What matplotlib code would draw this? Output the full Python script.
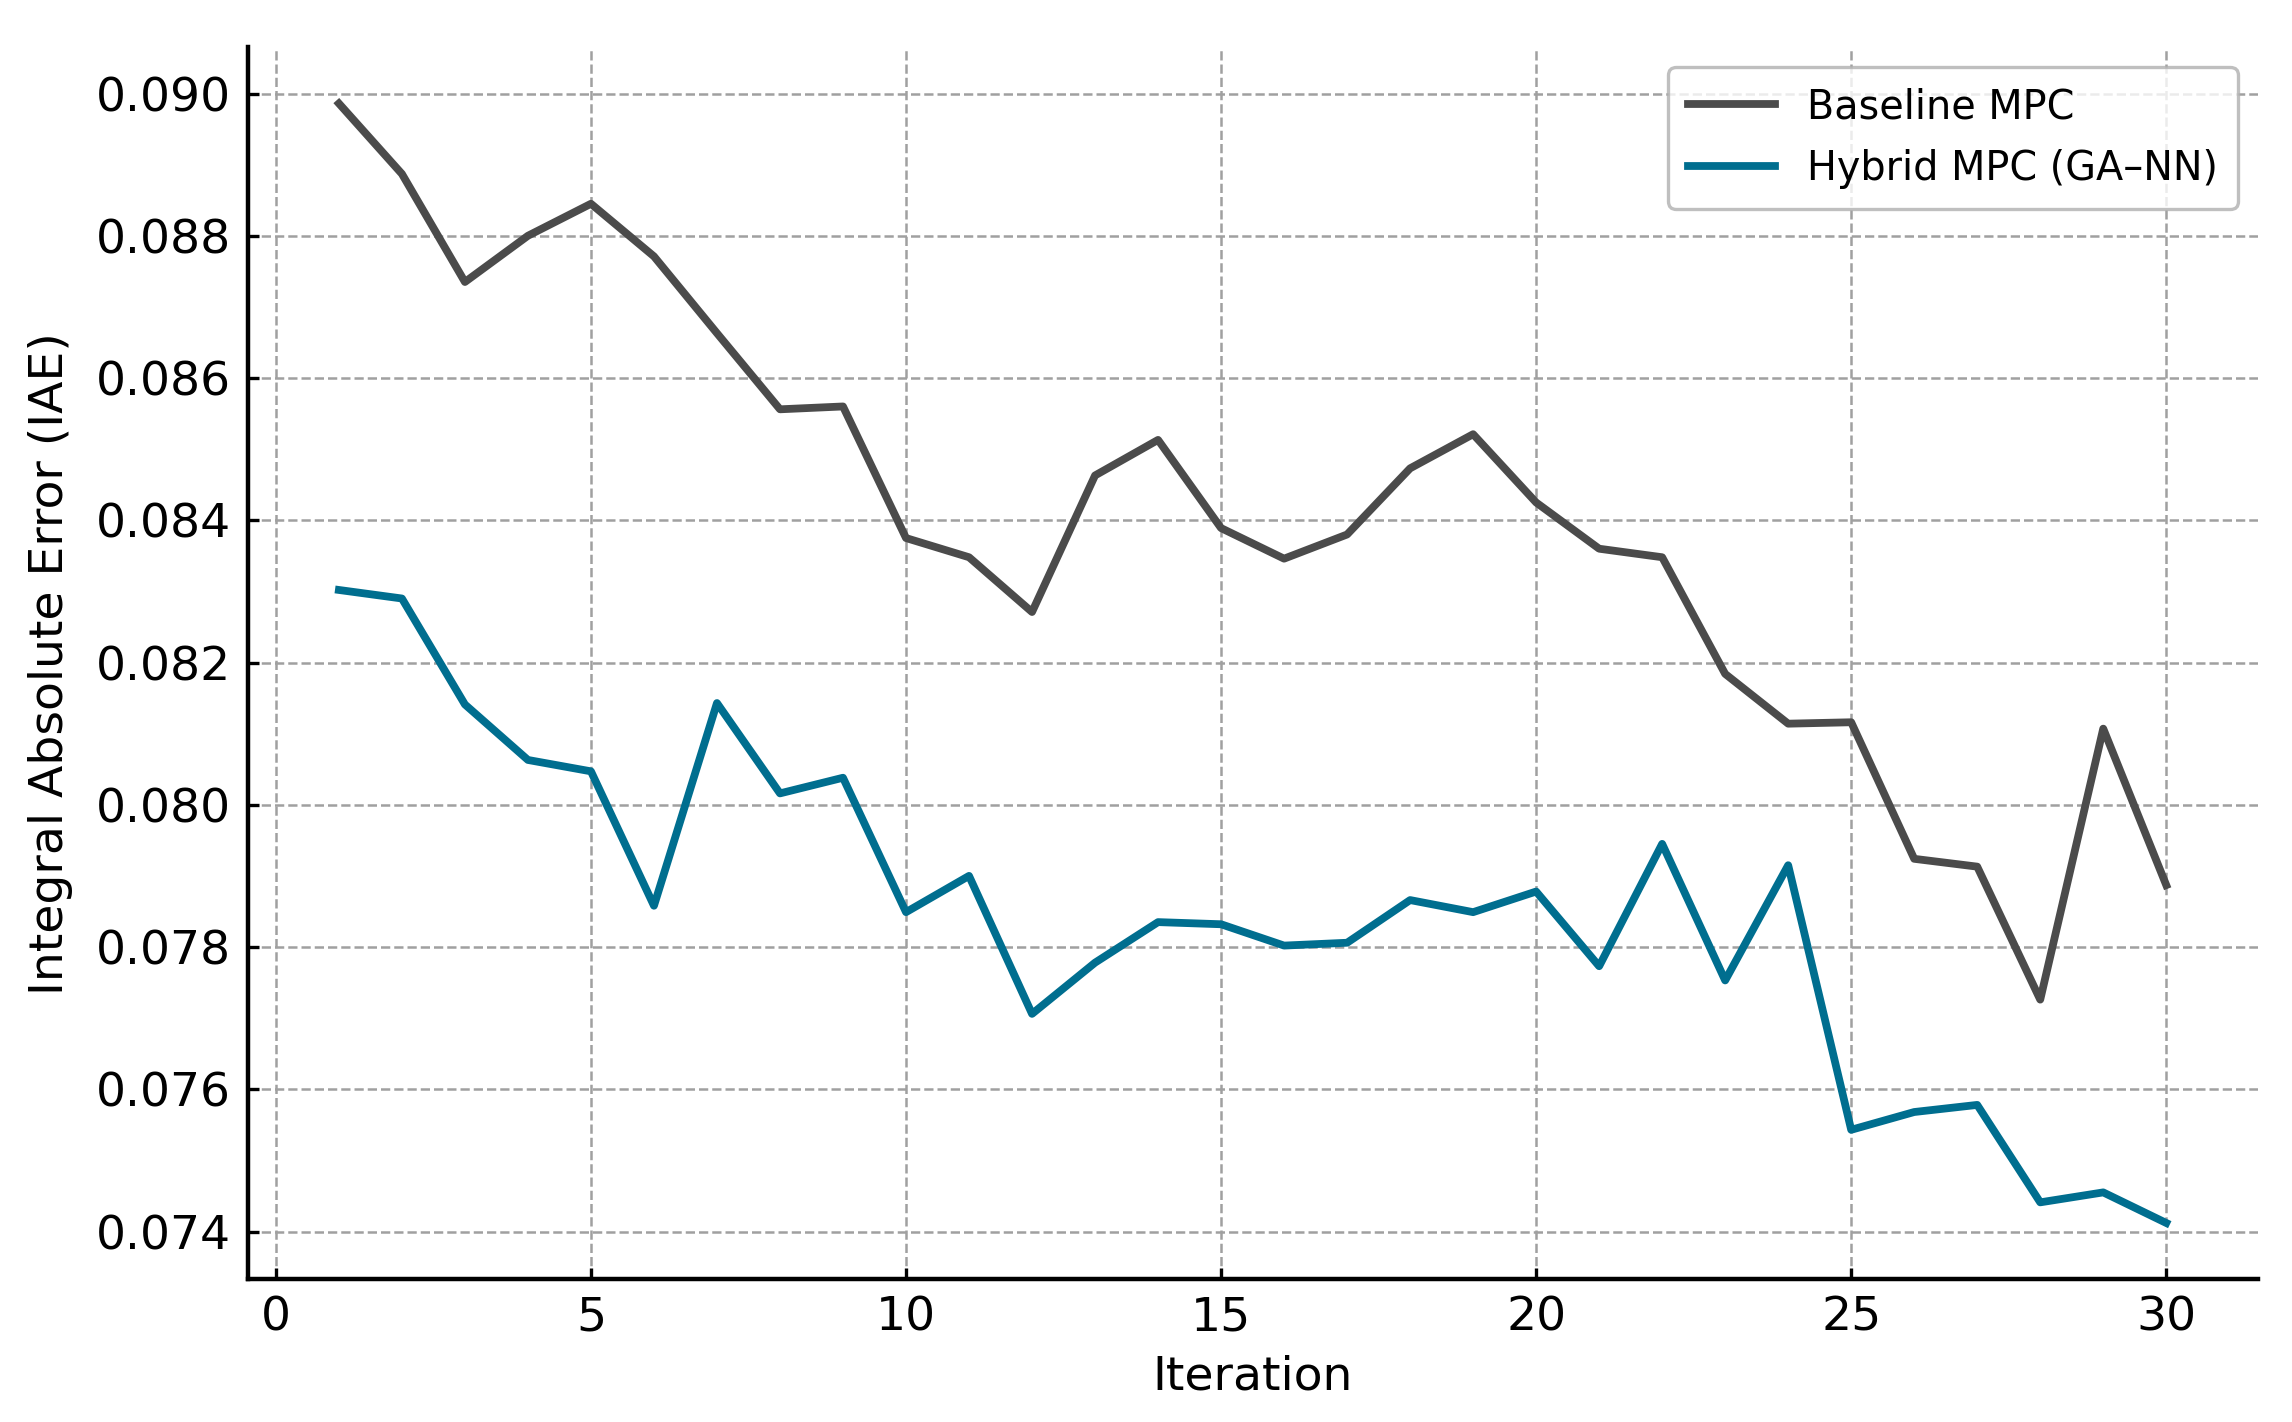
import matplotlib.pyplot as plt

iterations = list(range(1, 31))
baseline_mpc = [0.08986, 0.08887, 0.08735, 0.08800, 0.08845, 0.08771, 0.08663, 0.08556, 0.08560, 0.08375,
                0.08348, 0.08271, 0.08463, 0.08513, 0.08389, 0.08346, 0.08380, 0.08473, 0.08521, 0.08425,
                0.08360, 0.08348, 0.08184, 0.08114, 0.08116, 0.07924, 0.07913, 0.07726, 0.08107, 0.07887]
hybrid_mpc = [0.08302, 0.08290, 0.08141, 0.08063, 0.08047, 0.07858, 0.08143, 0.08016, 0.08038, 0.07849,
              0.07900, 0.07706, 0.07778, 0.07835, 0.07832, 0.07802, 0.07806, 0.07866, 0.07849, 0.07878,
              0.07773, 0.07945, 0.07753, 0.07915, 0.07543, 0.07568, 0.07578, 0.07441, 0.07455, 0.07412]

fig = plt.figure(figsize=(11.46, 7.11), dpi=200)
ax = fig.add_axes([0.108, 0.1006, 0.877, 0.866])

ax.plot(iterations, baseline_mpc, color='#4b4b4b', lw=2.8, label='Baseline MPC')
ax.plot(iterations, hybrid_mpc, color='#006e8f', lw=2.8, label='Hybrid MPC (GA\u2013NN)')

ax.set_xlabel('Iteration', fontsize=17, labelpad=5)
ax.set_ylabel('Integral Absolute Error (IAE)', fontsize=17, labelpad=8)
ax.set_xticks([0, 5, 10, 15, 20, 25, 30])
ax.set_yticks([0.074, 0.076, 0.078, 0.080, 0.082, 0.084, 0.086, 0.088, 0.090])
ax.set_yticklabels(['%.3f' % v for v in ax.get_yticks()])
ax.tick_params(direction='in', length=4, width=1.2, labelsize=17, pad=6)

ax.grid(True, linestyle='--', color='#a0a0a0', linewidth=0.9)
for side in ['top', 'right']:
    ax.spines[side].set_visible(False)
for side in ['left', 'bottom']:
    ax.spines[side].set_linewidth(1.6)

leg = ax.legend(loc='upper right', fontsize=14.3, frameon=True, fancybox=True,
                handlelength=2.2, borderpad=0.5, labelspacing=0.55)
leg.get_frame().set_edgecolor('#b0b0b0')
leg.get_frame().set_linewidth(1.2)

fig.savefig('out.png', dpi=200)
